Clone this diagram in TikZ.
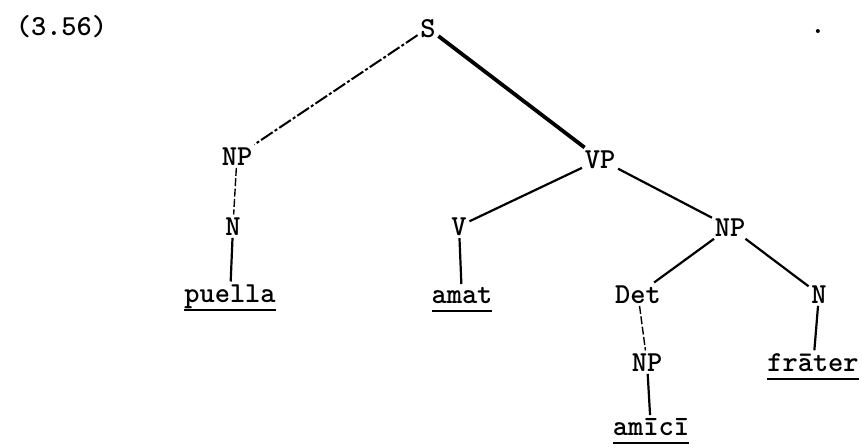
\documentclass[tikz,border=0pt]{standalone}
\usepackage{tikz}

%% Underlined word, with the rule at a fixed distance below the baseline.
\newcommand{\lineunder}[1]{%
  \setbox0=\hbox{#1}\dp0=0pt
  \vtop{\box0\kern3.4pt\hrule height 1.3pt}}

\begin{document}
\begin{tikzpicture}[%%
  x=0.5pt,y=-0.5pt,%%
  lineStyle/.style={-,line width=1.1pt},%%
  heavyLineStyle/.style={-,line width=1.9pt},%%
  brokenLineStyle/.style={-,line width=1pt,dash pattern=on 7pt off 1.2pt on 1.5pt off 1.2pt},%%
  faintLineStyle/.style={-,line width=0.7pt,dash pattern=on 4pt off 1.2pt},%%
  nodeStyle/.style={inner sep=1.2pt,anchor=base,font=\ttfamily\bfseries\fontsize{14.5}{16}\selectfont}%%
]
\useasboundingbox (0,0) rectangle (862,447);
%%
%%
\coordinate (Number) at (13,35);
\coordinate (Period) at (818,33);
\coordinate (Sentence) at (428,37);
\coordinate (SubjPhrase) at (237,165);
\coordinate (VerbPhrase) at (600,168);
\coordinate (SubjNoun) at (233,235);
\coordinate (Verb) at (459,235);
\coordinate (ObjPhrase) at (730,236);
\coordinate (Puella) at (230,302);
\coordinate (Amat) at (462,303);
\coordinate (Determiner) at (638,303);
\coordinate (ObjNoun) at (819,303);
\coordinate (GenPhrase) at (647,371);
\coordinate (Frater) at (813,371);
\coordinate (Amici) at (651,435);
%%
%%
%% Draw the phrase tree.
%% Nodes of the phrase tree.
\node (Num) at (Number) [nodeStyle,anchor=base west] {(3.56)};
\node (Dot) at (Period) [nodeStyle] {.};
\node (SS) at (Sentence) [nodeStyle] {S};
\node (NPa) at (SubjPhrase) [nodeStyle] {NP};
\node (VP) at (VerbPhrase) [nodeStyle] {VP};
\node (Na) at (SubjNoun) [nodeStyle] {N};
\node (VV) at (Verb) [nodeStyle] {V};
\node (NPb) at (ObjPhrase) [nodeStyle] {NP};
\node (WPuella) at (Puella) [nodeStyle] {\lineunder{puella}};
\node (WAmat) at (Amat) [nodeStyle] {\lineunder{amat}};
\node (Det) at (Determiner) [nodeStyle] {Det};
\node (Nb) at (ObjNoun) [nodeStyle] {N};
\node (NPc) at (GenPhrase) [nodeStyle] {NP};
\node (WFrater) at (Frater) [nodeStyle] {\lineunder{frāter}};
\node (WAmici) at (Amici) [nodeStyle] {\lineunder{amīcī}};
%% Lines between the nodes.
\draw[brokenLineStyle] (SS) edge (NPa);
\draw[heavyLineStyle] (SS) edge (VP);
\draw[faintLineStyle] (NPa) edge (Na);
\draw[lineStyle] (Na) edge (WPuella);
\draw[lineStyle] (VP) edge (VV);
\draw[lineStyle] (VP) edge (NPb);
\draw[lineStyle] (VV) edge (WAmat);
\draw[lineStyle] (NPb) edge (Det);
\draw[lineStyle] (NPb) edge (Nb);
\draw[faintLineStyle] (Det) edge (NPc);
\draw[lineStyle] (Nb) edge (WFrater);
\draw[lineStyle] (NPc) edge (WAmici);
\end{tikzpicture}
\end{document}
